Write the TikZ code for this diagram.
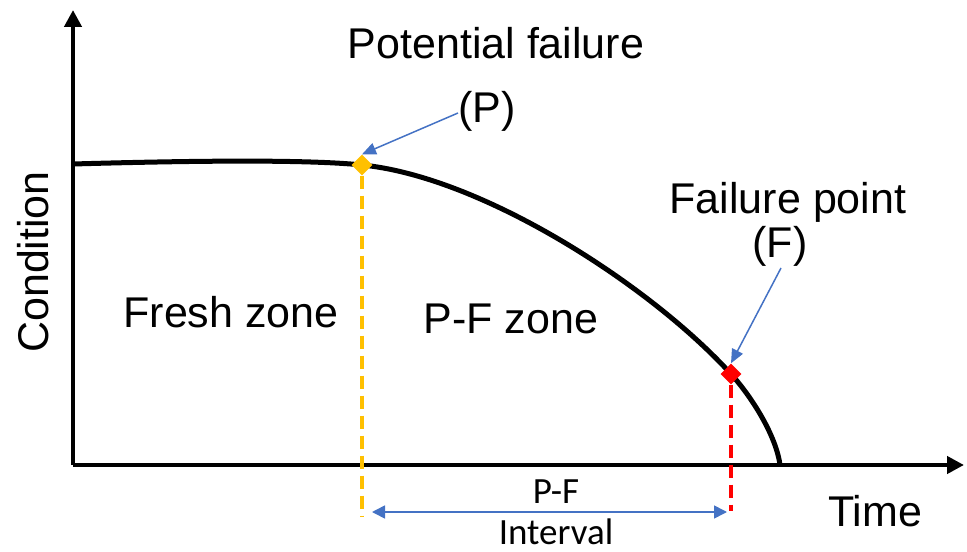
\documentclass[tikz,border=0pt]{standalone}
\usepackage{fontspec}
\setmainfont{Liberation Sans}
\newfontfamily\calfont{Carlito}
\usetikzlibrary{arrows.meta,shapes.geometric}
\definecolor{pyellow}{HTML}{FFC000}
\definecolor{pred}{HTML}{FF0000}
\definecolor{pblue}{HTML}{4472C4}
\tikzset{
  axisline/.style={line width=4.5bp, -{Triangle[length=17bp,width=17bp]}},
  curveline/.style={line width=5bp, line join=round},
  bigtext/.style={font=\fontsize{43bp}{50bp}\selectfont, inner sep=0pt, anchor=base},
  smalltext/.style={font=\calfont\fontsize{37bp}{42bp}\selectfont, inner sep=0pt, anchor=base},
  marker/.style={diamond, minimum size=21bp, inner sep=0pt},
  dashline/.style={line width=3.5bp, dash pattern=on 13bp off 7bp},
  bluearrow/.style={pblue, line width=1.5bp, -{Triangle[length=14bp,width=12bp]}},
  intervalarrow/.style={pblue, line width=1.6bp, {Triangle[length=13bp,width=13bp]}-{Triangle[length=13bp,width=13bp]}}
}
\begin{document}
\begin{tikzpicture}[x=1bp,y=-1bp]
\useasboundingbox (0,0) rectangle (967,552);
% axes
\coordinate (O) at (73,465);
\coordinate (ytip) at (73,10);
\coordinate (xtip) at (964,465);
\draw[axisline] (O) -- (ytip);
\draw[axisline] (O) -- (xtip);
% curve
\coordinate (S) at (73,164);
\coordinate (P) at (362,165);
\coordinate (F) at (731,374);
\coordinate (E) at (780,465);
\draw[curveline] (S) .. controls (180,161) and (303,159) .. (P)
  .. controls (483,177) and (651,286) .. (F)
  .. controls (751,396) and (776,435) .. (E);
% markers
\node[marker, fill=pyellow] (Pm) at (P) {};
\node[marker, fill=pred] (Fm) at (F) {};
% dashed lines
\coordinate (Pend) at (362,516);
\coordinate (Fend) at (731,511);
\draw[dashline, pyellow] (Pm.south) -- (Pend);
\draw[dashline, pred] (Fm.south) -- (Fend);
% labels
\node[bigtext] (potlab) at (496,59) {Potential failure};
\node[bigtext] (plab) at (487,123) {(P)};
\node[bigtext] (faillab) at (788,214) {Failure point};
\node[bigtext] (flab) at (780,258) {(F)};
\node[bigtext] (fresh) at (231,328) {Fresh zone};
\node[bigtext] (pfzone) at (511,334) {P-F zone};
\node[bigtext] (time) at (875,526) {Time};
\node[bigtext, rotate=90] (cond) at (48,262) {Condition};
\node[smalltext] (pf) at (556,503) {P-F};
\node[smalltext] (interval) at (556,544) {Interval};
% pointer arrows
\coordinate (Pstart) at (458,113);
\coordinate (Fstart) at (781,268);
\draw[bluearrow] (Pstart) -- (Pm.north);
\draw[bluearrow] (Fstart) -- (Fm.north);
% interval arrow
\coordinate (Ia) at (372,512);
\coordinate (Ib) at (727,512);
\draw[intervalarrow] (Ia) -- (Ib);
\end{tikzpicture}
\end{document}
